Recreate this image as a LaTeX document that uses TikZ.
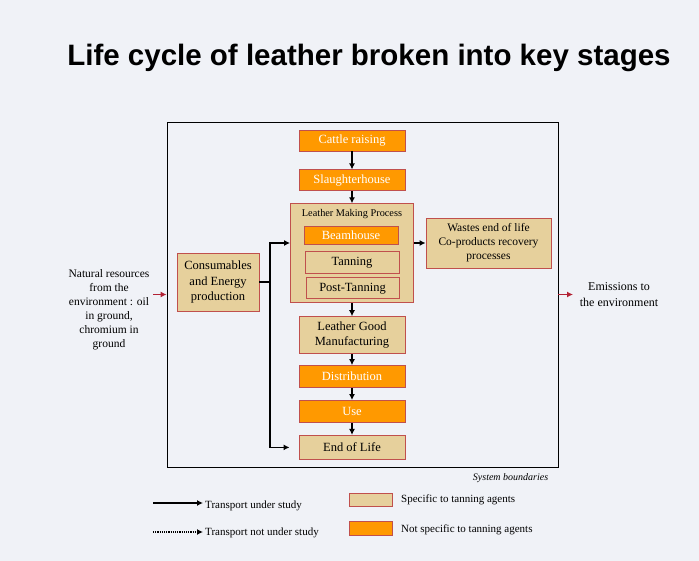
\documentclass[tikz,border=0pt]{standalone}
\usepackage{fontspec}
\setmainfont{Liberation Serif}
\newfontfamily\titlefont{Liberation Sans}
\usetikzlibrary{positioning,arrows.meta}
\definecolor{bgcol}{RGB}{240,242,247}
\definecolor{tancol}{RGB}{230,208,156}
\definecolor{orngcol}{RGB}{255,153,0}
\definecolor{brdcol}{RGB}{192,80,77}
\definecolor{redarr}{RGB}{178,34,52}

\begin{document}
\begin{tikzpicture}[x=1pt,y=-1pt,
      node distance=12pt,
      box/.style={draw=brdcol,line width=0.9pt,fill=tancol,align=center,inner sep=0pt,
        minimum width=106pt,minimum height=22pt,font=\fontsize{12.5}{15.5}\selectfont},
      obox/.style={box,fill=orngcol,text=white},
      arrow/.style={-{Latex[length=6pt,width=6pt]},line width=1.2pt},
      redarrow/.style={-{Latex[length=6pt,width=6pt]},line width=1.2pt,draw=redarr}]
    \fill[bgcol] (0,0) rectangle (699,561);
    \useasboundingbox (0,0) rectangle (699,561);
    \node[font=\titlefont\bfseries\fontsize{29.5}{34}\selectfont] (title) at (369,58) {Life cycle of leather broken into key stages};
    \node[draw,line width=0.8pt,minimum width=391pt,minimum height=345pt] (sysb) at (362.5,294.5) {};
    \node[anchor=north east,inner sep=0pt,font=\itshape\fontsize{10}{12}\selectfont] (sysl) at ([xshift=-10pt,yshift=-6pt]sysb.south east) {System boundaries};
    % main chain
    \node[obox,minimum height=21pt] (cattle) at (352,140.5) {Cattle raising};
    \node[obox,minimum height=21pt,below=18pt of cattle] (slaughter) {Slaughterhouse};
    \node[box,minimum width=123pt,minimum height=99pt,below=of slaughter] (lmp) {};
    \node[inner sep=0pt,font=\fontsize{10.3}{12}\selectfont,below=6pt of lmp.north] (lmptitle) {Leather Making Process};
    \node[obox,minimum width=94pt,minimum height=18pt] (beam) at (351,235) {Beamhouse};
    \node[box,minimum width=94pt,below=7pt of beam.south,anchor=north,xshift=1pt] (tanning) {Tanning};
    \node[box,minimum width=93pt,minimum height=21pt,below=3pt of tanning.south,anchor=north,xshift=0.5pt] (posttan) {Post-Tanning};
    \node[box,minimum height=37pt,below=13pt of lmp] (lgm) {Leather Good\\Manufacturing};
    \node[obox,below=11pt of lgm] (distrib) {Distribution};
    \node[obox,below=of distrib] (use) {Use};
    \node[box,minimum height=24pt,below=of use] (eol) {End of Life};
    % side boxes
    \node[box,minimum width=82pt,minimum height=58pt] (cons) at (218,282) {Consumables\\and Energy\\production};
    \node[box,minimum width=125pt,minimum height=50pt,font=\fontsize{11.5}{14}\selectfont] (wastes) at (488.5,243) {Wastes end of life\\Co-products recovery\\processes};
    % outside the boundaries
    \node[align=center,font=\fontsize{11.5}{14}\selectfont] (natres) at (109,309.5) {Natural resources\\from the\\environment : oil\\in ground,\\chromium in\\ground};
    \node[align=center,font=\fontsize{12}{16}\selectfont] (emis) at (619,295) {Emissions to\\the environment};
    \coordinate (natin) at (153,294.5);
    \coordinate (emout) at (573,294.5);
    \coordinate (jtop) at (270,243);
    % connectors
    \draw[arrow] (cattle) -- (slaughter);
    \draw[arrow] (slaughter) -- (lmp);
    \draw[arrow] (lmp) -- (lgm);
    \draw[arrow] (lgm) -- (distrib);
    \draw[arrow] (distrib) -- (use);
    \draw[arrow] (use) -- (eol);
    \draw[arrow] (lmp.east |- wastes) -- (wastes.west);
    \draw[arrow] (cons.east) -| (jtop) -- (lmp.west |- jtop);
    \draw[arrow,shorten >=9pt] (jtop) |- (eol.west);
    \draw[redarrow] (natin) -- (sysb.west);
    \draw[redarrow] (sysb.east) -- (emout);
    % legend
    \coordinate (solids) at (153,503);
    \coordinate (solide) at (203,503);
    \coordinate (dots) at (153,532);
    \coordinate (dote) at (203,532);
    \draw[arrow] (solids) -- (solide);
    \draw[arrow,densely dotted] (dots) -- (dote);
    \node[anchor=west,inner sep=0pt,font=\fontsize{11}{13}\selectfont] (solidl) at (205,506) {Transport under study};
    \node[anchor=west,inner sep=0pt,font=\fontsize{11}{13}\selectfont] (dotl) at (205,533) {Transport not under study};
    \node[box,minimum width=43pt,minimum height=13pt] (legtan) at (370.5,499.5) {};
    \node[obox,minimum width=43pt,minimum height=14pt] (legorng) at (370.5,528) {};
    \node[anchor=west,inner sep=0pt,font=\fontsize{11}{13}\selectfont] (tanl) at (401,500) {Specific to tanning agents};
    \node[anchor=west,inner sep=0pt,font=\fontsize{11}{13}\selectfont] (orngl) at (401,530) {Not specific to tanning agents};
  \end{tikzpicture}
\end{document}
